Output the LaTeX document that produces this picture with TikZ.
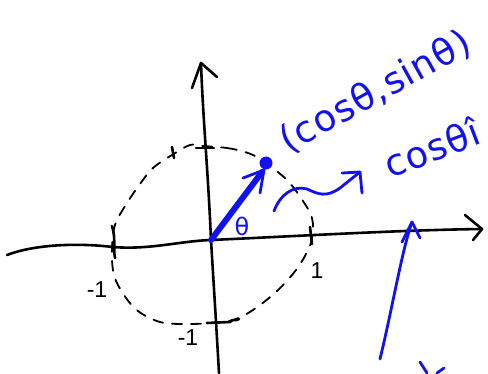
\documentclass[tikz,border=0pt]{standalone}
\usepackage{fontspec}
\newfontfamily\hand{DejaVu Sans}[LetterSpace=3]
\newfontfamily\digits{Liberation Sans}
\definecolor{pen}{RGB}{18,18,240}
\tikzset{
  ink/.style={line width=2.6pt, line cap=round, line join=round, black},
  dashink/.style={line width=1.8pt, line cap=round, black, dash pattern=on 10pt off 9pt},
  blueink/.style={line width=2.8pt, line cap=round, line join=round, pen},
  bluetext/.style={pen, inner sep=0pt, font=\hand\fontsize{37}{42}\selectfont},
  axislabel/.style={black, inner sep=0pt, font=\digits\fontsize{23}{26}\selectfont}
}
\begin{document}
\begin{tikzpicture}[x=1pt,y=-1pt]
\useasboundingbox (0,0) rectangle (488,373);
\clip (0,0) rectangle (488,373);
\fill[white] (0,0) rectangle (488,373);
% named points
\coordinate (O) at (211,240);
\coordinate (P) at (266,163);
\coordinate (xtip) at (482,229);
\coordinate (ytip) at (201,63);
% dashed unit circle
\draw[dashink] plot[smooth cycle, tension=0.6] coordinates {
 (203,146) (227,148) (245,152) (259,158) (270,166) (287,180) (301,198) (312,218)
 (312,238) (307,252) (296,270) (277,291) (253,310) (233,320) (212,323) (185,324)
 (160,322) (138,311) (124,295) (114,275) (112,250) (115,225) (127,203) (140,184)
 (153,168) (172,155) (190,145)};
% horizontal axis
\draw[ink] (7,255) .. controls (30,246) and (70,242) .. (113,247)
  .. controls (150,250) and (180,241) .. (O)
  .. controls (300,236) and (400,230) .. (xtip);
\draw[ink] (465,215) -- (xtip) -- (473,240);
% vertical axis
\draw[ink] (219,373) .. controls (216,320) and (214,290) .. (O)
  .. controls (208,170) and (203,120) .. (ytip);
\draw[ink] (192,88) -- (ytip) -- (217,77);
% ticks
\draw[ink] (112,226) .. controls (116,238) and (113,248) .. (115,258);
\draw[ink] (310,227) -- (312,244);
\draw[ink] (196,148) -- (214,148);
\draw[ink] (172,147) -- (174,158);
\draw[ink] (207,323) -- (230,322) .. controls (233,318) and (235,322) .. (239,319);
% axis labels
\node[axislabel] (one) at (317,271) {1};
\node[axislabel] (mleft) at (97,290) {-1};
\node[axislabel] (mbottom) at (188,338) {-1};
% blue vector
\draw[pen, line width=6pt, line cap=round] (O) -- (262,172);
\draw[blueink] (243,178) -- (264,170) -- (260,193);
\fill[pen] (P) circle (6.5pt);
\node[pen, inner sep=0pt, font=\hand\fontsize{24}{28}\selectfont] (theta) at (242,226) {θ};
% wavy arrow
\coordinate (w0) at (274,211);
\coordinate (w1) at (360,172);
\draw[blueink] (w0) .. controls (280,195) and (293,185) .. (307,189)
  .. controls (318,194) and (326,198) .. (340,188) -- (w1);
\draw[blueink] (342,173) -- (w1) -- (362,193);
% long arrow from below
\coordinate (b0) at (380,359);
\coordinate (b1) at (412,222);
\draw[blueink] (b0) .. controls (392,310) and (402,250) .. (b1);
\draw[blueink] (402,242) -- (b1) -- (420,238);
\draw[blueink] (420,362) -- (427,373);
\draw[blueink] (437,373) -- (444,368);
% texts
\node[bluetext, anchor=base west, rotate=29] (pt) at (288,154) {(cosθ,sinθ)};
\node[bluetext, anchor=base west, rotate=21] (vec) at (390,179) {cosθî};
\end{tikzpicture}
\end{document}
